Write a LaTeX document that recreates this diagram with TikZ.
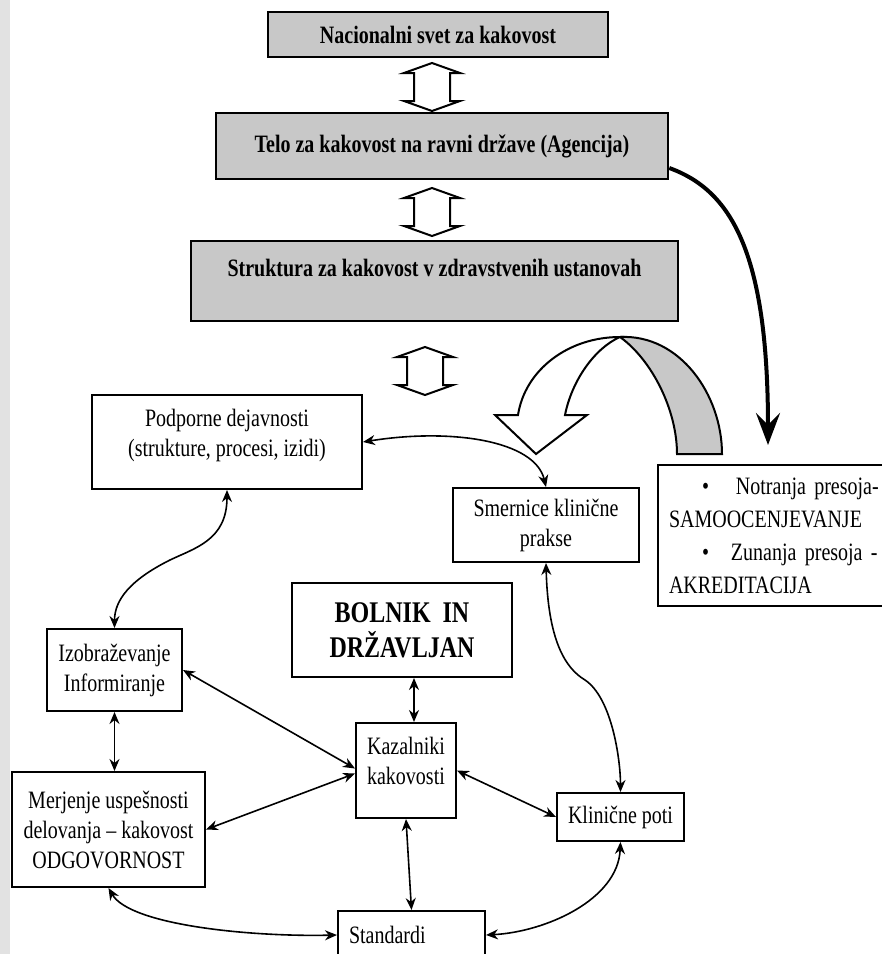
\documentclass[tikz,border=0pt]{standalone}
\usepackage{fontspec}
\setmainfont{Liberation Serif}[FakeStretch=0.8]
\definecolor{boxgray}{RGB}{200,200,200}
\definecolor{stripgray}{RGB}{226,226,226}
\usetikzlibrary{arrows.meta,calc}

\begin{document}
\begin{tikzpicture}[x=1pt,y=-1pt,
  level/.style={draw,line width=2.6pt,fill=boxgray,inner sep=0pt,
    font=\bfseries\fontsize{25}{30}\selectfont},
  field/.style={draw,line width=2pt,fill=white,inner sep=0pt,align=center,
    font=\fontsize{25}{30}\selectfont},
  link/.style={{Stealth[length=12pt,width=10pt]}-{Stealth[length=12pt,width=10pt]},
    line width=1.6pt},
  hollow/.style={draw,line width=2pt,fill=white,line join=miter}
]
  \useasboundingbox (0,0) rectangle (882,954);
  \clip (0,0) rectangle (882,954);
  \fill[white] (0,0) rectangle (882,954);
  \fill[stripgray] (0,0) rectangle (10,954);

  % Levels
  \node[level,minimum width=340pt,minimum height=45pt] (nsk) at (438,34.5) {Nacionalni svet za kakovost};
  \node[level,minimum width=452pt,minimum height=66pt] (telo) at (442,146) {Telo za kakovost na ravni države (Agencija)};
  \node[level,minimum width=487pt,minimum height=80pt,text height=18pt,text depth=28pt] (struk) at (434.5,281) {Struktura za kakovost v zdravstvenih ustanovah};
  \foreach \cx/\ya/\yb in {432/63/111, 432/188/236, 425/347/395} {
    \draw[hollow] (\cx,\ya) -- ++(28,10) -- ++(-10,0) -- (\cx+18,\yb-10) -- ++(10,0)
      -- (\cx,\yb) -- ++(-28,-10) -- ++(10,0) -- (\cx-18,\ya+10) -- ++(-10,0) -- cycle;
  }

  % Ribbon arrow
  \draw[line width=2pt,fill=white,line join=miter] (518,415) .. controls (525,370) and (568,337) .. (620,337)
    .. controls (595,348) and (572,380) .. (565,415) -- (587,415) -- (536,454) -- (495,415) -- cycle;
  \draw[line width=2pt,fill=boxgray] (620,337) .. controls (680,334) and (722,395) .. (722,454)
    -- (677,454) .. controls (677,410) and (652,360) .. (620,337) -- cycle;

  % Fields
  \node[field,minimum width=270pt,minimum height=94pt] (podp) at (227,442) {Podporne dejavnosti\\(strukture, procesi, izidi)\\[-12pt]\mbox{}};
  \node[field,minimum width=186pt,minimum height=74pt] (smer) at (546,525) {Smernice klinične\\prakse};
  \node[field,anchor=north west,minimum height=141pt,text width=230pt,align=left,inner xsep=11pt,
    font=\fontsize{25}{33}\selectfont] (presoja) at (657,464)
    {\hspace*{33pt}\textbullet\hspace{27pt}Notranja presoja-\\SAMOOCENJEVANJE\\
     \hspace*{33pt}\textbullet\hspace{22pt}Zunanja presoja -\\AKREDITACIJA};
  \node[field,minimum width=135pt,minimum height=82pt] (izob) at (114.5,670) {Izobraževanje\\Informiranje};
  \node[field,minimum width=220pt,minimum height=94pt,font=\bfseries\fontsize{30}{35}\selectfont] (bolnik) at (402,630) {BOLNIK\ \ IN\\DRŽAVLJAN};
  \node[field,minimum width=100pt,minimum height=95pt] (kaz) at (406,770.5) {Kazalniki\\kakovosti\\[-10pt]\mbox{}};
  \node[field,minimum width=193pt,minimum height=115pt] (merj) at (108.5,829.5) {Merjenje uspešnosti\\delovanja – kakovost\\ODGOVORNOST};
  \node[field,minimum width=127pt,minimum height=48pt] (klin) at (620.5,817) {Klinične poti};
  \node[field,minimum width=147pt,minimum height=48pt,text width=125pt,align=left] (stand) at (411.5,935) {Standardi};

  % Arrows
  \coordinate (akrTip) at (768,445);
  \draw[line width=4pt,-{Stealth[length=32pt,width=24pt,inset=12pt]}] ($(telo.east)+(0,22)$)
    .. controls (730,190) and (768,250) .. (akrTip);
  \draw[link] (podp.east) .. controls (450,428) and (535,440) .. (smer.north);
  \draw[link] (podp.south) .. controls (227,540) and (195,548) .. (170,560)
    .. controls (130,580) and (114.5,600) .. (izob.north);
  \draw[link] (izob.south) -- (izob.south |- merj.north);
  \draw[link] (izob.east) -- ($(kaz.west)+(0,-2)$);
  \draw[link] ($(kaz.west)+(0,3)$) -- (merj.east);
  \draw[link] ($(kaz.north |- bolnik.south)+(8,0)$) -- ($(kaz.north)+(8,0)$);
  \draw[link] (kaz.east) -- (klin.west);
  \draw[link] (smer.south) .. controls (548,640) and (565,668) .. (585,680)
    .. controls (612,698) and (620.5,760) .. (klin.north);
  \draw[link] (kaz.south) -- (stand.north);
  \draw[link] (klin.south) .. controls (618,900) and (545,932) .. (stand.east);
  \draw[link] (merj.south) .. controls (130,925) and (250,937) .. (stand.west);
\end{tikzpicture}
\end{document}
